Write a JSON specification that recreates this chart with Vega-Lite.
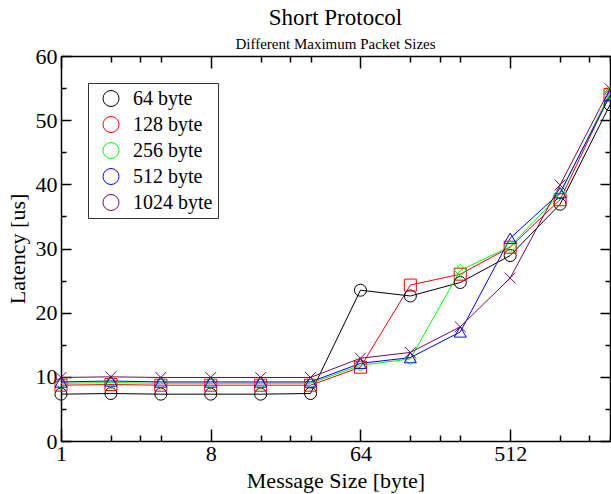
{
  "$schema": "https://vega.github.io/schema/vega-lite/v6.json",
  "width": 549,
  "height": 385,
  "autosize": "none",
  "padding": {"left": 61, "top": 56, "right": 1, "bottom": 53},
  "background": "white",
  "title": {
    "text": "Short Protocol",
    "subtitle": "Different Maximum Packet Sizes",
    "font": "Liberation Serif",
    "fontSize": 23,
    "fontWeight": "normal",
    "color": "black",
    "subtitleFont": "Liberation Serif",
    "subtitleFontSize": 15,
    "subtitleColor": "black",
    "subtitlePadding": 7,
    "anchor": "middle",
    "offset": -7
  },
  "data": {
    "values": [
      {"size": 1, "series": "64 byte", "latency": 7.3},
      {"size": 2, "series": "64 byte", "latency": 7.4},
      {"size": 4, "series": "64 byte", "latency": 7.3},
      {"size": 8, "series": "64 byte", "latency": 7.3},
      {"size": 16, "series": "64 byte", "latency": 7.3},
      {"size": 32, "series": "64 byte", "latency": 7.4},
      {"size": 64, "series": "64 byte", "latency": 23.5},
      {"size": 128, "series": "64 byte", "latency": 22.6},
      {"size": 256, "series": "64 byte", "latency": 24.7},
      {"size": 512, "series": "64 byte", "latency": 28.9},
      {"size": 1024, "series": "64 byte", "latency": 36.9},
      {"size": 2048, "series": "64 byte", "latency": 52.4},
      {"size": 1, "series": "128 byte", "latency": 8.7},
      {"size": 2, "series": "128 byte", "latency": 8.8},
      {"size": 4, "series": "128 byte", "latency": 8.7},
      {"size": 8, "series": "128 byte", "latency": 8.7},
      {"size": 16, "series": "128 byte", "latency": 8.7},
      {"size": 32, "series": "128 byte", "latency": 8.7},
      {"size": 64, "series": "128 byte", "latency": 11.5},
      {"size": 128, "series": "128 byte", "latency": 24.3},
      {"size": 256, "series": "128 byte", "latency": 26.0},
      {"size": 512, "series": "128 byte", "latency": 30.2},
      {"size": 1024, "series": "128 byte", "latency": 37.6},
      {"size": 2048, "series": "128 byte", "latency": 54.0},
      {"size": 1, "series": "256 byte", "latency": 9.0},
      {"size": 2, "series": "256 byte", "latency": 9.1},
      {"size": 4, "series": "256 byte", "latency": 9.0},
      {"size": 8, "series": "256 byte", "latency": 9.0},
      {"size": 16, "series": "256 byte", "latency": 9.0},
      {"size": 32, "series": "256 byte", "latency": 9.0},
      {"size": 64, "series": "256 byte", "latency": 11.8},
      {"size": 128, "series": "256 byte", "latency": 12.8},
      {"size": 256, "series": "256 byte", "latency": 26.6},
      {"size": 512, "series": "256 byte", "latency": 30.3},
      {"size": 1024, "series": "256 byte", "latency": 38.5},
      {"size": 2048, "series": "256 byte", "latency": 54.2},
      {"size": 1, "series": "512 byte", "latency": 9.2},
      {"size": 2, "series": "512 byte", "latency": 9.35},
      {"size": 4, "series": "512 byte", "latency": 9.2},
      {"size": 8, "series": "512 byte", "latency": 9.2},
      {"size": 16, "series": "512 byte", "latency": 9.2},
      {"size": 32, "series": "512 byte", "latency": 9.2},
      {"size": 64, "series": "512 byte", "latency": 12.1},
      {"size": 128, "series": "512 byte", "latency": 13.0},
      {"size": 256, "series": "512 byte", "latency": 17.0},
      {"size": 512, "series": "512 byte", "latency": 31.6},
      {"size": 1024, "series": "512 byte", "latency": 38.7},
      {"size": 2048, "series": "512 byte", "latency": 53.8},
      {"size": 1, "series": "1024 byte", "latency": 9.9},
      {"size": 2, "series": "1024 byte", "latency": 10.0},
      {"size": 4, "series": "1024 byte", "latency": 9.9},
      {"size": 8, "series": "1024 byte", "latency": 9.9},
      {"size": 16, "series": "1024 byte", "latency": 9.9},
      {"size": 32, "series": "1024 byte", "latency": 9.9},
      {"size": 64, "series": "1024 byte", "latency": 12.9},
      {"size": 128, "series": "1024 byte", "latency": 13.8},
      {"size": 256, "series": "1024 byte", "latency": 17.8},
      {"size": 512, "series": "1024 byte", "latency": 25.4},
      {"size": 1024, "series": "1024 byte", "latency": 39.9},
      {"size": 2048, "series": "1024 byte", "latency": 54.9}
    ]
  },
  "layer": [
    {
      "mark": {"type": "line", "strokeWidth": 1, "clip": false},
      "encoding": {
        "x": {
          "field": "size", "type": "quantitative",
          "scale": {"type": "log", "base": 2, "domain": [1, 2048], "nice": false},
          "axis": {
            "orient": "bottom",
            "title": "Message Size [byte]",
            "values": [1, 2, 3, 4, 8, 16, 24, 32, 64, 128, 192, 256, 512, 1024, 1536, 2048],
            "labelExpr": "indexof([1,8,64,512], datum.value) >= 0 ? '' + datum.value : ''",
            "tickSize": {"condition": {"test": "indexof([1,8,64,512], datum.value) >= 0", "value": -12}, "value": -6},
            "labelPadding": 14,
            "titlePadding": 0
          }
        },
        "y": {
          "field": "latency", "type": "quantitative",
          "scale": {"domain": [0, 60], "nice": false, "zero": true},
          "axis": {
            "orient": "left",
            "title": "Latency [us]",
            "values": [0, 5, 10, 15, 20, 25, 30, 35, 40, 45, 50, 55, 60],
            "labelExpr": "datum.value % 10 == 0 ? '' + datum.value : ''",
            "tickSize": {"condition": {"test": "datum.value % 10 == 0", "value": -10}, "value": -5},
            "labelPadding": 14,
            "titlePadding": 6
          }
        },
        "color": {
          "field": "series", "type": "nominal",
          "scale": {"domain": ["64 byte", "128 byte", "256 byte", "512 byte", "1024 byte"], "range": ["#000000", "#ff0000", "#00ff00", "#0000ff", "#6a0d5a"]}
        }
      }
    },
    {
      "mark": {"type": "point", "filled": false, "strokeWidth": 1, "size": 144, "opacity": 1, "clip": false},
      "encoding": {
        "x": {
          "field": "size", "type": "quantitative",
          "scale": {"type": "log", "base": 2, "domain": [1, 2048], "nice": false},
          "axis": {
            "orient": "top",
            "title": null,
            "labels": false,
            "values": [1, 2, 3, 4, 8, 16, 24, 32, 64, 128, 192, 256, 512, 1024, 1536, 2048],
            "tickSize": {"condition": {"test": "indexof([1,8,64,512], datum.value) >= 0", "value": -12}, "value": -6}
          }
        },
        "y": {
          "field": "latency", "type": "quantitative",
          "scale": {"domain": [0, 60], "nice": false, "zero": true},
          "axis": {
            "orient": "right",
            "title": null,
            "labels": false,
            "values": [0, 5, 10, 15, 20, 25, 30, 35, 40, 45, 50, 55, 60],
            "tickSize": {"condition": {"test": "datum.value % 10 == 0", "value": -10}, "value": -5}
          }
        },
        "color": {
          "field": "series", "type": "nominal",
          "scale": {"domain": ["64 byte", "128 byte", "256 byte", "512 byte", "1024 byte"], "range": ["#000000", "#ff0000", "#00ff00", "#0000ff", "#6a0d5a"]},
          "legend": {
            "encode": {
              "symbols": {
                "shape": {
                  "condition": [
                    {"test": "datum.value === '64 byte'", "value": "M-1.46,0L1.46,0M-1.96,0a0.5,0.5 0 1,0 1,0a0.5,0.5 0 1,0 -1,0M0.96,0a0.5,0.5 0 1,0 1,0a0.5,0.5 0 1,0 -1,0"},
                    {"test": "datum.value === '128 byte'", "value": "M-1.46,0L1.46,0M-1.96,-0.5h1v1h-1zM0.96,-0.5h1v1h-1z"},
                    {"test": "datum.value === '256 byte'", "value": "M-1.46,0L1.46,0M-2.06,0l0.6,-0.6l0.6,0.6l-0.6,0.6zM0.86,0l0.6,-0.6l0.6,0.6l-0.6,0.6z"},
                    {"test": "datum.value === '512 byte'", "value": "M-1.46,0.1L1.46,0.1M-2.06,0.55l0.6,-1.1l0.6,1.1zM0.86,0.55l0.6,-1.1l0.6,1.1z"}
                  ],
                  "value": "M-1.46,0L1.46,0M-1.86,-0.4L-1.06,0.4M-1.86,0.4L-1.06,-0.4M1.06,-0.4L1.86,0.4M1.06,0.4L1.86,-0.4"
                }
              }
            }
          }
        },
        "shape": {
          "field": "series", "type": "nominal",
          "scale": {"range": ["M-0.9,-0.9L0.9,0.9M-0.9,0.9L0.9,-0.9", "square", "diamond", "triangle-up", "circle"]},
          "legend": null
        }
      }
    }
  ],
  "resolve": {"axis": {"x": "independent", "y": "independent"}},
  "config": {
    "view": {"stroke": null},
    "legend": {
      "orient": "none",
      "legendX": 27,
      "legendY": 27,
      "title": null,
      "padding": 5.5,
      "strokeColor": "#333333",
      "strokeWidth": 1,
      "fillColor": "white",
      "cornerRadius": 0,
      "labelFont": "Liberation Serif",
      "labelFontSize": 20,
      "labelColor": "black",
      "labelLimit": 200,
      "symbolSize": 256,
      "symbolOffset": 7.5,
      "symbolStrokeWidth": 1,
      "labelOffset": 12,
      "rowPadding": 6
    },
    "axis": {
      "grid": false,
      "domain": true,
      "domainColor": "black",
      "domainWidth": 1.5,
      "tickColor": "black",
      "tickWidth": 1.5,
      "labelFont": "Liberation Serif",
      "labelFontSize": 22,
      "labelColor": "black",
      "titleFont": "Liberation Serif",
      "titleFontSize": 22,
      "titleFontWeight": "normal",
      "titleColor": "black",
      "labelOverlap": false,
      "labelFlush": false
    }
  }
}
